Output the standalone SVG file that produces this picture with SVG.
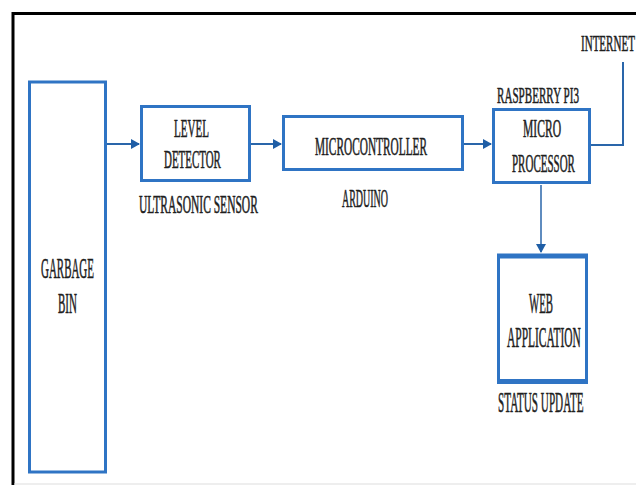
<svg xmlns="http://www.w3.org/2000/svg" width="636" height="485" viewBox="0 0 636 485">
<style>
.box{fill:#fff;stroke:#2f74c4;stroke-width:3}
.t{font-family:"Liberation Serif","Times New Roman",serif;fill:#1e1e1e;stroke:#1e1e1e;stroke-width:0.6;font-size:26px}
.big{font-size:29px}
.sm{font-size:24px}
.con{fill:none;stroke:#2a66aa;stroke-width:2}
</style>
<defs>
<marker id="ah" markerWidth="10" markerHeight="10" refX="8" refY="5" orient="auto" markerUnits="userSpaceOnUse">
<path d="M0,0 L9,5 L0,10 Z" fill="#1f5ea6"/>
</marker>
</defs>
<rect x="0" y="0" width="636" height="485" fill="#fff"/>
<g id="frame">
<line x1="13" y1="12" x2="13" y2="485" stroke="#000" stroke-width="3"/>
<line x1="12" y1="13.5" x2="636" y2="13.5" stroke="#000" stroke-width="3"/>
<line x1="14" y1="484" x2="636" y2="484" stroke="#ddd" stroke-width="1"/>
</g>
<g id="connectors">
<line class="con" x1="107" y1="144" x2="139" y2="144" marker-end="url(#ah)"/>
<line class="con" x1="251" y1="144" x2="281" y2="144" marker-end="url(#ah)"/>
<line class="con" x1="464" y1="144" x2="491" y2="144" marker-end="url(#ah)"/>
<line class="con" x1="541" y1="185" x2="541" y2="252" marker-end="url(#ah)" style="stroke-width:1.5"/>
<polyline class="con" points="591,145 623,145 623,62"/>
</g>
<g id="garbage-bin">
<rect class="box" x="29.5" y="82" width="76" height="390"/>
<text class="t big" transform="translate(41,278) scale(0.378,1)">GARBAGE</text>
<text class="t big" transform="translate(58,313) scale(0.38,1)">BIN</text>
</g>
<g id="level-detector">
<rect class="box" x="141.5" y="106.5" width="108" height="74"/>
<text class="t" transform="translate(174,137) scale(0.425,1)">LEVEL</text>
<text class="t" transform="translate(164,168) scale(0.42,1)">DETECTOR</text>
<text class="t" transform="translate(139,213) scale(0.443,1)">ULTRASONIC SENSOR</text>
</g>
<g id="microcontroller">
<rect class="box" x="283.5" y="116.5" width="179" height="53"/>
<text class="t" transform="translate(315,155) scale(0.436,1)">MICROCONTROLLER</text>
<text class="t" transform="translate(342,207) scale(0.384,1)">ARDUINO</text>
</g>
<g id="microprocessor">
<rect class="box" x="493.5" y="109.5" width="96" height="73"/>
<text class="t sm" transform="translate(497,103) scale(0.463,1)">RASPBERRY PI3</text>
<text class="t" transform="translate(523,137) scale(0.446,1)">MICRO</text>
<text class="t" transform="translate(512,172) scale(0.423,1)">PROCESSOR</text>
</g>
<g id="internet">
<text class="t sm" transform="translate(581,51) scale(0.46,1)">INTERNET</text>
</g>
<g id="web-application">
<rect class="box" x="498.5" y="255.5" width="88" height="126"/>
<line x1="497" y1="256" x2="588" y2="256" stroke="#2f74c4" stroke-width="5"/>
<line x1="497" y1="381.5" x2="588" y2="381.5" stroke="#2f74c4" stroke-width="5"/>
<text class="t big" transform="translate(529,313) scale(0.373,1)">WEB</text>
<text class="t big" transform="translate(507,347) scale(0.395,1)">APPLICATION</text>
<text class="t big" transform="translate(498,412) scale(0.385,1)">STATUS UPDATE</text>
</g>
</svg>
